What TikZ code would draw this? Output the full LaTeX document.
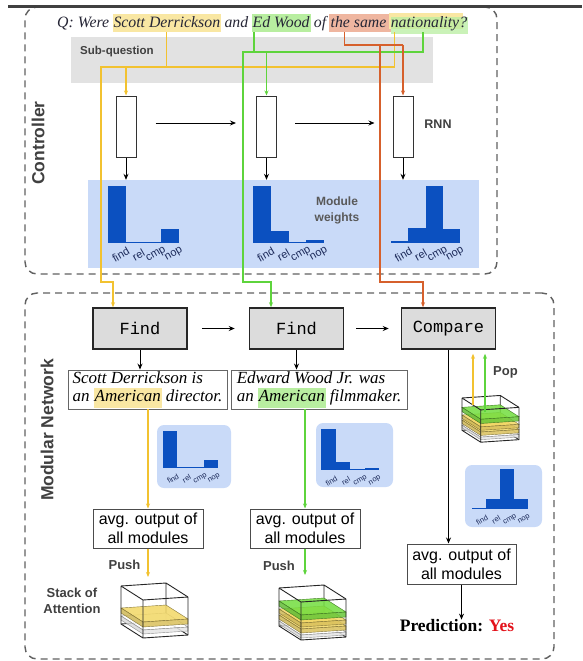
\documentclass[tikz,border=0pt]{standalone}
\usepackage{fontspec}
\setmainfont{Liberation Serif}
\setsansfont{Liberation Sans}
\setmonofont{Liberation Mono}
\usetikzlibrary{arrows.meta,backgrounds,calc}

\definecolor{hlY}{HTML}{F9E7A3}
\definecolor{hlG}{HTML}{B8EEA0}
\definecolor{hlO}{HTML}{EFB6A0}
\definecolor{lnY}{HTML}{F2C230}
\definecolor{lnG}{HTML}{5ED43C}
\definecolor{lnO}{HTML}{D6602C}
\definecolor{barblue}{HTML}{0B50C0}
\definecolor{paleblue}{HTML}{C9DAF8}
\definecolor{subgray}{HTML}{E2E2E2}
\definecolor{boxgray}{HTML}{DCDCDC}
\definecolor{labelgray}{HTML}{404040}
\definecolor{qtext}{HTML}{262636}
\definecolor{lbltext}{HTML}{1C2A5A}
\definecolor{predred}{HTML}{E3121B}
\definecolor{stY}{HTML}{F2D765}
\definecolor{stG}{HTML}{72DD3E}

\newcommand\fs[2]{\fontsize{#1}{#2}\selectfont}
\newcommand\hlword[2]{{\setlength{\fboxsep}{0.8pt}\colorbox{#1}{\strut #2}}}

% bar chart of module weights: name, x0, baseline, bar width, label size, four heights
\newcommand\modchart[9]{%
  \foreach \bh [count=\k from 0] in {#6,#7,#8,#9}{%
    \fill[barblue] ({#2+\k*#4},#3) rectangle ({#2+(\k+1)*#4},{#3-\bh});}%
  \foreach \lbl [count=\k from 0] in {find,rel,cmp,nop}{%
    \node[histlbl, font=\sffamily\fs{#5}{#5}] (#1-\lbl) at ({#2+(\k+0.5)*#4+0.22*#4},{#3+0.3*#4+6.5}) {\lbl};}%
}

% glass box holding attention layers: x, y of top-left corner, scale, layers (depth/colour/thickness)
\newcommand\attstack[4]{%
  \begin{scope}[shift={(#1,#2)}, scale=#3]
    \draw[stackedge] (0,0) -- (45,-3) -- (67,11) (45,-3) -- (45,35) (0,38) -- (45,35) -- (67,49);
    \foreach \z/\c/\t in {#4}{%
      \filldraw[draw=\c!55!black, line width=0.4pt, fill=\c, fill opacity=0.85]
        (0,\z) -- (45,\z-3) -- (67,\z+11) -- (22,\z+14) -- cycle;
      \filldraw[draw=\c!55!black, line width=0.4pt, fill=\c!85!black, fill opacity=0.85]
        (0,\z) -- (22,\z+14) -- (22,\z+14+\t) -- (0,\z+\t) -- cycle;
      \filldraw[draw=\c!55!black, line width=0.4pt, fill=\c!90!black, fill opacity=0.85]
        (22,\z+14) -- (67,\z+11) -- (67,\z+11+\t) -- (22,\z+14+\t) -- cycle;}
    \draw[stackedge] (0,0) -- (22,14) -- (67,11) (0,0) -- (0,38) -- (22,52) -- (67,49) -- (67,11) (22,14) -- (22,52);
  \end{scope}}

\begin{document}
\begin{tikzpicture}[x=1pt,y=-1pt,
  qword/.style={font=\fs{15.8}{18}\itshape, text=qtext, inner xsep=1pt, inner ysep=0pt,
                text height=14pt, text depth=4pt, anchor=base west},
  tipblk/.style={-{Stealth[length=6pt,width=5pt]}},
  tipcol/.style={-{Stealth[length=5pt,width=4pt]}},
  blkarrow/.style={draw=black, line width=0.9pt, tipblk},
  yline/.style={draw=lnY, line width=1.2pt},
  gline/.style={draw=lnG, line width=1.2pt},
  oline/.style={draw=lnO, line width=1.2pt},
  rnncell/.style={draw=black!80, line width=1pt, fill=white, minimum width=20pt, minimum height=61pt, inner sep=0pt},
  module/.style={draw=black!85, line width=1.5pt, fill=boxgray, minimum width=94pt, minimum height=41pt,
                 font=\ttfamily\fs{17}{20}, inner sep=0pt},
  sentence/.style={draw=black!60, line width=0.9pt, fill=white, align=left, font=\itshape\fs{17}{18},
                   inner xsep=2.5pt, inner ysep=1.5pt, minimum height=39pt},
  avgbox/.style={draw=black!70, line width=1pt, fill=white, align=center, font=\sffamily\fs{16}{19},
                 minimum width=110pt, minimum height=39pt, inner sep=0pt},
  note/.style={font=\sffamily\bfseries\fs{13}{16}, text=labelgray, align=center, inner sep=0pt},
  panel/.style={fill=paleblue, rounded corners=7pt, inner sep=0pt},
  frame/.style={draw=black!62, line width=1.4pt, dash pattern=on 7pt off 5pt, rounded corners=12pt, inner sep=0pt},
  histlbl/.style={rotate=30, inner sep=0pt, text=lbltext},
  stackedge/.style={draw=black!85, line width=0.9pt, line join=round}]

\useasboundingbox (0,0) rectangle (582,661);

% dashed frames of the two parts
\node[frame, minimum width=472pt, minimum height=267pt] (ctrl) at (261,140.5) {};
\node[frame, minimum width=529pt, minimum height=366pt] (modnet) at (289.5,476) {};
\node[note, font=\sffamily\bfseries\fs{17.5}{20}, rotate=90] (ctrllbl) at (38,143) {Controller};
\node[note, font=\sffamily\bfseries\fs{17.5}{20}, rotate=90] (modlbl) at (47,430) {Modular Network};

% question with highlighted spans
\node[qword] (q1) at (56,28) {Q: Were};
\node[qword, fill=hlY] (sd) at ([xshift=2pt]q1.base east) {Scott Derrickson};
\node[qword] (q2) at ([xshift=2pt]sd.base east) {and};
\node[qword, fill=hlG] (ew) at ([xshift=2pt]q2.base east) {Ed Wood};
\node[qword] (q3) at ([xshift=2pt]ew.base east) {of};
\node[qword] (ts) at ([xshift=2pt]q3.base east) {the same};
\node[qword] (nat) at ([xshift=2pt]ts.base east) {nationality?};
\begin{scope}[on background layer]
  \fill[hlO] (ts.north west) rectangle ([xshift=1pt]nat.south west);
  \fill[hlY] ([xshift=-1pt,yshift=1pt]nat.north west) rectangle ([xshift=-5pt,yshift=3pt]nat.south east);
  \fill[hlG, opacity=0.75] ([xshift=1pt,yshift=-3pt]nat.north west) rectangle ([yshift=-2pt]nat.south east);
\end{scope}

% controller backgrounds
\node[fill=subgray, minimum width=362pt, minimum height=46pt, inner sep=0pt] (subq) at (252,60) {};
\node[note, font=\sffamily\bfseries\fs{11.5}{14}, anchor=west] (subqlbl) at (80,52) {Sub-question};
\node[fill=paleblue, minimum width=391pt, minimum height=88pt, inner sep=0pt] (mw) at (283.5,224) {};

% RNN cells
\node[rnncell] (cell1) at (126,126.5) {};
\node[rnncell] (cell2) at (266.5,126.5) {};
\node[rnncell] (cell3) at (403,126.5) {};
\node[note, font=\sffamily\bfseries\fs{12.5}{15}] (rnnlbl) at (438,124) {RNN};
\draw[blkarrow, shorten <=19pt, shorten >=20pt] ([yshift=3.5pt]cell1.east) -- ([yshift=3.5pt]cell2.west);
\draw[blkarrow, shorten <=18pt, shorten >=18pt] ([yshift=3.5pt]cell2.east) -- ([yshift=3.5pt]cell3.west);
\draw[blkarrow] (cell1.south) -- (cell1.south |- mw.north);
\draw[blkarrow] (cell2.south) -- (cell2.south |- mw.north);
\draw[blkarrow] (cell3.south) -- (cell3.south |- mw.north);

% module weights predicted by the controller
\modchart{wa}{108}{243}{17.75}{11}{57}{1.5}{1.5}{14}
\modchart{wb}{253}{243}{17.75}{11}{57}{12}{0.6}{3}
\modchart{wc}{391}{243}{17.3}{11}{2.5}{15}{57}{14}
\node[note, font=\sffamily\bfseries\fs{12}{16}, text=black!65] (mwlbl) at (337,210) {Module\\weights};

% modules
\node[module] (find1) at (140,328.5) {Find};
\node[module] (find2) at (296.5,328.5) {Find};
\node[module] (cmp) at (448.5,328.5) {Compare};
\draw[blkarrow, shorten <=14pt, shorten >=14pt] (find1.east) -- (find2.west);
\draw[blkarrow, shorten <=12pt, shorten >=12pt] (find2.east) -- (cmp.west);

% sub-question routing lines
\coordinate (yJ) at (101,67);
\coordinate (gJ) at (243,52);
\coordinate (oJ) at (380,45);
\draw[yline] (sd.south) -- (sd.south |- yJ);
\draw[yline, tipcol] ([xshift=5pt]nat.south west) |- (yJ) |- ([xshift=-27pt]find1.north |- 0,282) -- ([xshift=-27pt]find1.north);
\draw[yline, tipcol] (cell1.north |- yJ) -- (cell1.north);
\draw[gline] ([xshift=2.5pt]ew.south west) -- ([xshift=2.5pt]ew.south west |- gJ);
\draw[gline, tipcol] ([xshift=-6pt]nat.south) |- (gJ) |- ([xshift=-25.5pt]find2.north |- 0,282) -- ([xshift=-25.5pt]find2.north);
\draw[gline, tipcol] (cell2.north |- gJ) -- (cell2.north);
\draw[oline] ([xshift=15pt]ts.south west) |- (cell3.north |- oJ);
\draw[oline, tipcol] (cell3.north |- oJ) -- (cell3.north);
\draw[oline, tipcol] (oJ) |- ([xshift=-25.5pt]cmp.north |- 0,282) -- ([xshift=-25.5pt]cmp.north);

% retrieved sentences
\node[sentence, minimum width=159pt] (s1) at (147.5,389.5) {Scott Derrickson is\\an \hlword{hlY}{American} director.};
\node[sentence, minimum width=176pt] (s2) at (319,389.5) {Edward Wood Jr. was\\an \hlword{hlG}{American} filmmaker.};
\draw[blkarrow] (find1.south) -- (find1.south |- s1.north);
\draw[blkarrow] (find2.south) -- (find2.south |- s2.north);

% per-step module weight panels
\node[panel, minimum width=74pt, minimum height=63pt] (p1) at (194,456.5) {};
\node[panel, minimum width=77pt, minimum height=64pt] (p2) at (354.5,455) {};
\node[panel, minimum width=77pt, minimum height=62pt] (p3) at (503.5,496) {};
\modchart{pa}{163}{468}{13.75}{7.5}{37}{1}{1}{8}
\modchart{pb}{321}{470}{14.5}{7.5}{41}{8}{0.6}{2}
\modchart{pc}{472}{509}{14}{7.5}{1.5}{10}{40}{10}

% averaged outputs
\node[avgbox] (avg1) at (148,528.5) {avg. output of\\all modules};
\node[avgbox] (avg2) at (305,528.5) {avg. output of\\all modules};
\node[avgbox, minimum height=40pt, minimum width=109pt] (avg3) at (461.5,564) {avg. output of\\all modules};
\draw[yline, tipcol] (avg1.north |- s1.south) -- (avg1.north);
\draw[gline, tipcol] (avg2.north |- s2.south) -- (avg2.north);
\draw[blkarrow] (cmp.south) -- (cmp.south |- avg3.north);

% attention stacks
\attstack{121}{586}{1}{30/white/4, 22/stY/5}
\attstack{279}{588}{1}{33/white/3, 27/stY/4, 21/stY/4, 13/stG/5}
\attstack{462}{398}{0.85}{32/white/3, 26/stY/4, 20/stY/4, 11/stG/5}

\coordinate (push1) at (148,577);
\coordinate (push2) at (305,575);
\draw[yline, tipcol] (avg1.south) -- (push1);
\draw[gline, tipcol] (avg2.south) -- (push2);
\node[note] (pushlbl1) at (124.5,565) {Push};
\node[note] (pushlbl2) at (279,566) {Push};
\node[note] (stacklbl) at (72,601) {Stack of\\Attention};

\coordinate (popY) at (473,405);
\coordinate (popG) at (485,412);
\draw[yline, tipcol] (popY) -- ([yshift=-4pt]popY |- cmp.south);
\draw[gline, tipcol] (popG) -- ([yshift=-4pt]popG |- cmp.south);
\node[note] (poplbl) at (505.5,372) {Pop};

% final answer
\node[font=\bfseries\fs{17.5}{20}, inner sep=0pt] (pred) at (457,626) {Prediction: \textcolor{predred}{Yes}};
\draw[blkarrow] (avg3.south) -- (avg3.south |- pred.north);

% rule above the figure
\draw[line width=2.2pt, draw=black!75] (8,6.5) -- (582,6.5);
\end{tikzpicture}
\end{document}
